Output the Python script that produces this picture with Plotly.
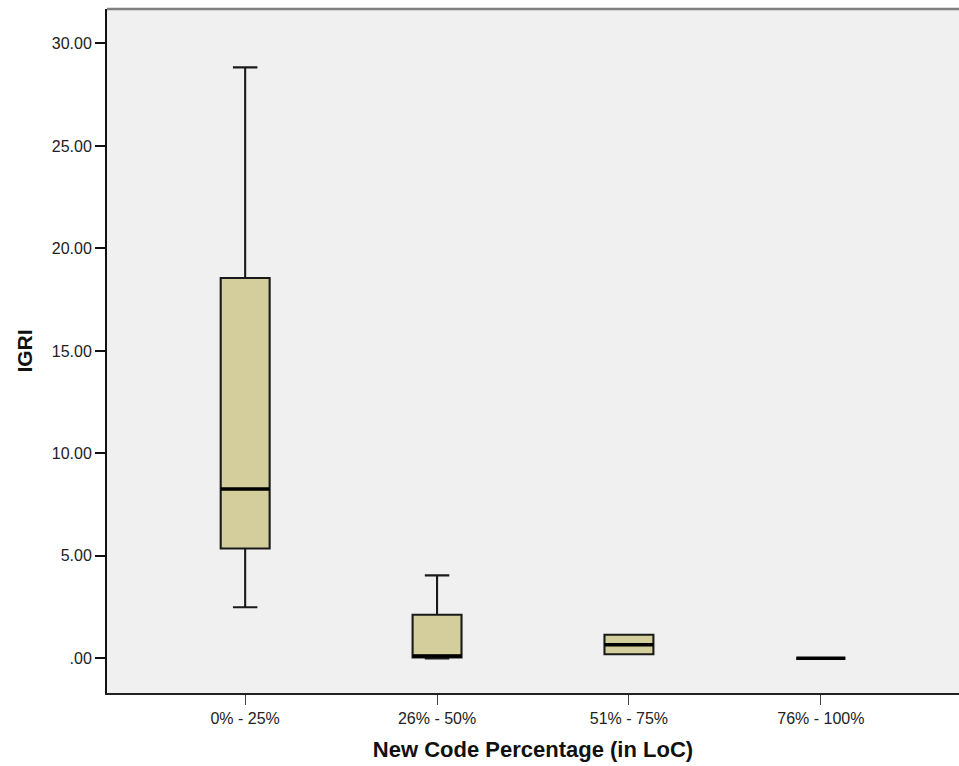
import plotly.graph_objects as go

categories = ["0% - 25%", "26% - 50%", "51% - 75%", "76% - 100%"]
lower_whisker = [2.49, 0.00, 0.20, 0.00]
q1 = [5.36, 0.05, 0.20, 0.00]
median = [8.26, 0.12, 0.67, 0.00]
q3 = [18.56, 2.13, 1.15, 0.00]
upper_whisker = [28.83, 4.05, 1.15, 0.00]
y_tick_vals = [0, 5, 10, 15, 20, 25, 30]
y_tick_text = [".00", "5.00", "10.00", "15.00", "20.00", "25.00", "30.00"]

positions = list(range(len(categories)))
box_w = 0.255

fig = go.Figure()
fig.add_trace(go.Box(
    x=positions, q1=q1, median=median, q3=q3,
    lowerfence=lower_whisker, upperfence=upper_whisker,
    width=box_w, whiskerwidth=0.5,
    fillcolor="#d3ce9c",
    line=dict(color="#1a1a1a", width=2.1),
    boxpoints=False, hoverinfo="skip", showlegend=False,
))

mx, my = [], []
for p, m in zip(positions, median):
    mx += [p - box_w / 2, p + box_w / 2, None]
    my += [m, m, None]
fig.add_trace(go.Scatter(x=mx, y=my, mode="lines",
                         line=dict(color="black", width=3.5),
                         hoverinfo="skip", showlegend=False))

font = "Liberation Sans, Arial, sans-serif"
fig.update_layout(
    width=959, height=766,
    margin=dict(l=107, r=0, t=9, b=73),
    paper_bgcolor="white", plot_bgcolor="#f0f0f0",
    font=dict(family=font, size=16, color="#222"),
    xaxis=dict(
        range=[-0.72, 3.72], tickvals=positions, ticktext=categories,
        showgrid=False, zeroline=False, showline=True, linecolor="#222", linewidth=1.5,
        ticks="outside", ticklen=10, tickwidth=1.2, tickcolor="#444",
        title=dict(text="<b>New Code Percentage (in LoC)</b>", font=dict(size=22, color="#111"), standoff=16),
    ),
    yaxis=dict(
        range=[-1.69, 31.68], tickvals=y_tick_vals, ticktext=y_tick_text,
        showgrid=False, zeroline=False, showline=True, linecolor="#111", linewidth=2,
        ticks="outside", ticklen=10, tickwidth=2, tickcolor="#111",
        title=dict(text="<b>IGRI</b>", font=dict(size=21, color="#111"), standoff=13),
    ),
    shapes=[dict(type="line", xref="paper", yref="paper", x0=0, x1=1, y0=1, y1=1,
                 line=dict(color="#808080", width=2.5))],
)

fig.write_html("out.html", config={"displayModeBar": False},
               post_script="document.body.style.margin='0';document.body.style.overflow='hidden';")
